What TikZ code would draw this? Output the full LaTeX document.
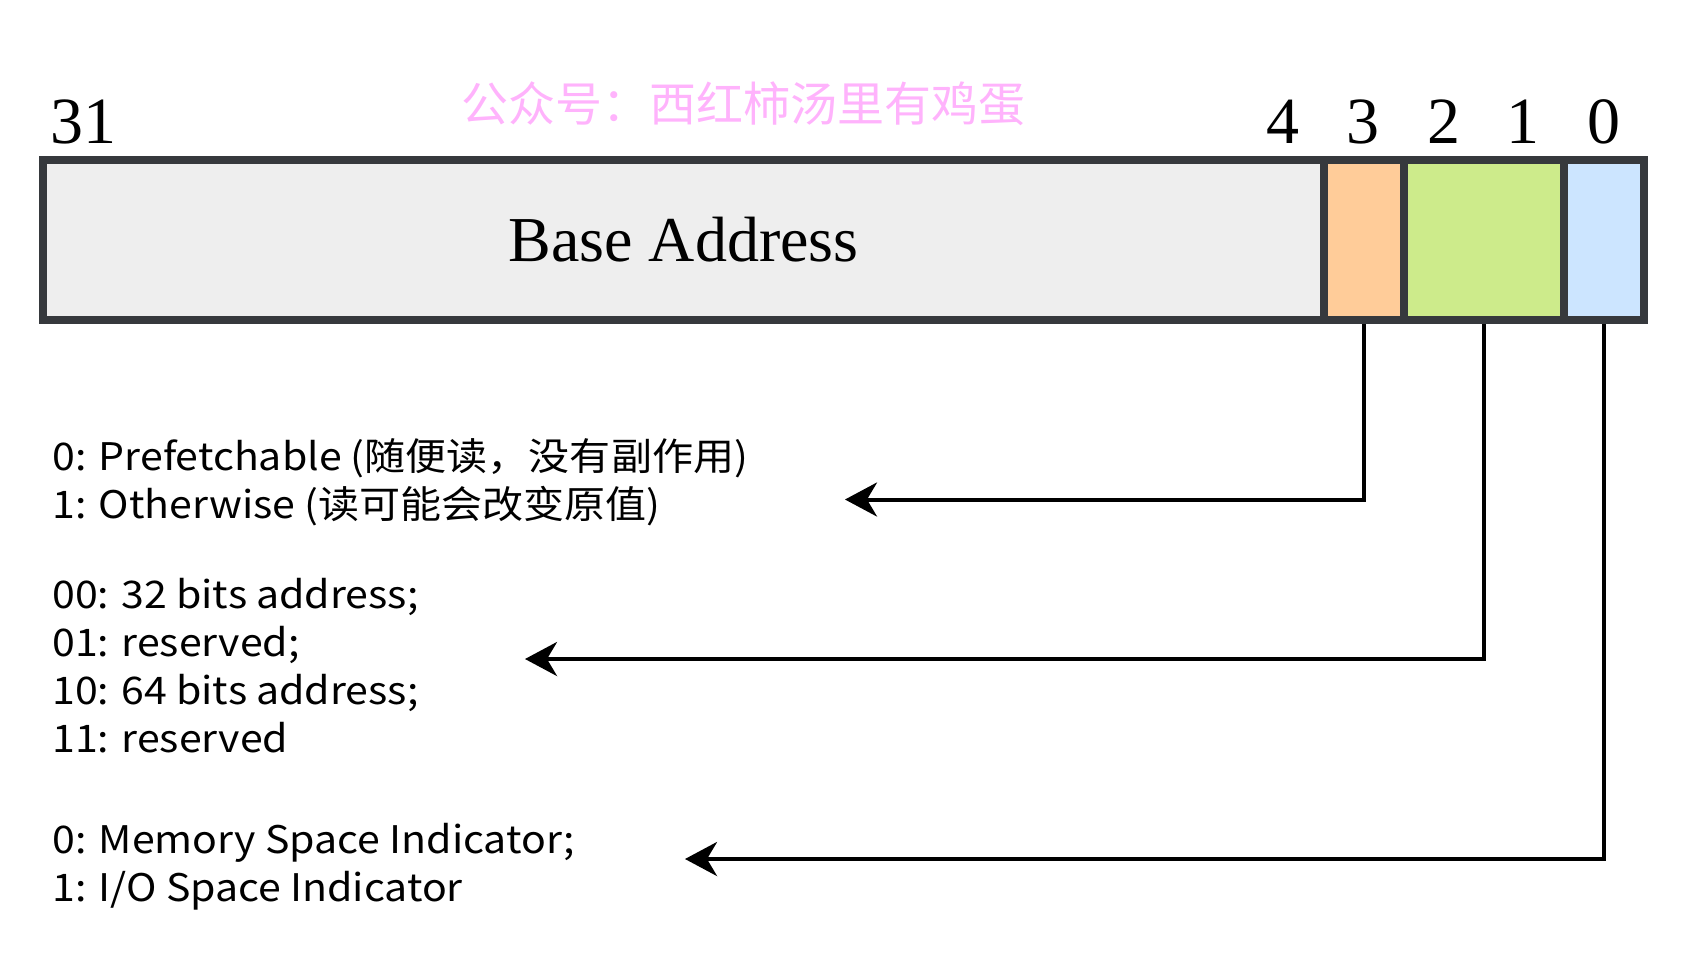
\documentclass[tikz,border=0pt]{standalone}
\usepackage{fontspec}
\setmainfont{Liberation Serif}
\newfontfamily\cjk{Noto Sans CJK SC}
\newfontfamily\notefont[FakeStretch=1.08]{Noto Sans CJK SC}
\usetikzlibrary{arrows.meta,backgrounds}

\definecolor{frame}{HTML}{36393D}
\definecolor{baseF}{HTML}{EEEEEE}
\definecolor{prefF}{HTML}{FFCC99}
\definecolor{typeF}{HTML}{CDEB8B}
\definecolor{spaceF}{HTML}{CCE5FF}
\definecolor{mark}{HTML}{FFB3FC}

\begin{document}
\begin{tikzpicture}[x=0.5pt,y=-0.5pt,
  field/.style={draw=frame, line width=4pt, inner sep=0pt, minimum height=80pt},
  bitnum/.style={font=\fontsize{33}{33}\selectfont, anchor=base, inner sep=0pt},
  note/.style={font=\notefont\fontsize{19}{24}\selectfont, align=left, anchor=west, inner sep=0pt},
  link/.style={line width=2pt, -{Stealth[length=16pt,width=17pt,inset=5pt]}}]
\useasboundingbox (0,0) rectangle (1688,960);

% register fields
\node[field, fill=baseF, minimum width=640.5pt, font=\fontsize{32}{32}\selectfont] (base) at (683.5,240) {\raisebox{-1.5pt}{Base Address}};
\node[field, fill=prefF, minimum width=40pt] (pref) at (1364,240) {};
\node[field, fill=typeF, minimum width=80pt] (type) at (1484,240) {};
\node[field, fill=spaceF, minimum width=40pt] (space) at (1604,240) {};

% bit positions
\node[bitnum] (b31) at (83,143) {31};
\node[bitnum] (b4) at (1283,143) {4};
\node[bitnum] (b3) at (1363,143) {3};
\node[bitnum] (b2) at (1444,143) {2};
\node[bitnum] (b1) at (1523,143) {1};
\node[bitnum] (b0) at (1604,143) {0};

% title text
\node[font=\cjk\fontsize{23.5}{23.5}\selectfont, text=mark, inner sep=0pt] (wm) at (743,104) {公众号：西红柿汤里有鸡蛋};

% field descriptions
\node[note] (n1) at (52,482) {0: Prefetchable (随便读，没有副作用)\\1: Otherwise (读可能会改变原值)};
\node[note] (n2) at (52,666) {00: 32 bits address;\\01: reserved;\\10: 64 bits address;\\11: reserved};
\node[note] (n3) at (52,867) {0: Memory Space Indicator;\\1: I/O Space Indicator};

% arrow tips
\coordinate (t1) at (845,499.5);
\coordinate (t2) at (525,659);
\coordinate (t3) at (685,859);

\begin{scope}[on background layer]
\draw[link] (pref.south) |- (t1);
\draw[link] (type.south) |- (t2);
\draw[link] (space.south) |- (t3);
\end{scope}
\end{tikzpicture}
\end{document}
